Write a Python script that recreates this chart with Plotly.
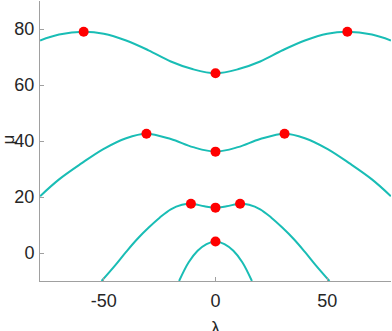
import plotly.graph_objects as go

# branch 1 (top)
lam1 = [-78.5, -70, -59, -50, -40, -30, -20, -10, 0, 10, 20, 30, 40, 50, 59, 70, 78.5]
mu1 = [75.9, 78.0, 79.0, 78.3, 75.9, 72.4, 68.4, 65.6, 64.2, 65.6, 68.4, 72.4, 75.9, 78.3, 79.0, 78.0, 75.9]
# branch 2
lam2 = [-78.5, -70, -60, -50, -40, -31, -20, -10, 0, 10, 20, 31, 40, 50, 60, 70, 78.5]
mu2 = [20.3, 26.3, 32.0, 37.2, 41.0, 42.6, 40.7, 37.8, 36.2, 37.8, 40.7, 42.6, 41.0, 37.2, 32.0, 26.3, 20.3]
# branch 3
lam3 = [-51, -45, -40, -35, -30, -25, -20, -15, -11, -5, 0, 5, 11, 15, 20, 25, 30, 35, 40, 45, 51]
mu3 = [-10, -4.5, 0.4, 5.0, 9.0, 12.6, 15.6, 17.2, 17.6, 16.7, 16.2, 16.7, 17.6, 17.2, 15.6, 12.6, 9.0, 5.0, 0.4, -4.5, -10]
# branch 4
lam4 = [-16.3, -12, -8, -4, 0, 4, 8, 12, 16.3]
mu4 = [-10, -3.3, 0.8, 3.2, 4.1, 3.2, 0.8, -3.3, -10]

# marked points
dot_lam = [-59, 59, 0, -30.9, 30.9, 0, -11, 11, 0, 0]
dot_mu = [79.0, 79.0, 64.2, 42.6, 42.6, 36.2, 17.6, 17.6, 16.2, 4.1]

teal = "#19BDB5"
txt = dict(family="Liberation Sans", size=18, color="#262626")

fig = go.Figure()
for lx, ly in [(lam1, mu1), (lam2, mu2), (lam3, mu3), (lam4, mu4)]:
    fig.add_trace(go.Scatter(x=lx, y=ly, mode="lines", line=dict(color=teal, width=2, shape="spline"),
                             showlegend=False, hoverinfo="skip"))
fig.add_trace(go.Scatter(x=dot_lam, y=dot_mu, mode="markers", marker=dict(color="#FF0000", size=10),
                         showlegend=False, cliponaxis=False))

axis_style = dict(showline=True, linecolor="#A0A0A0", linewidth=1, ticks="inside", ticklen=4,
                  tickcolor="#A0A0A0", showgrid=False, zeroline=False, mirror=False,
                  automargin=False, tickfont=txt)
fig.update_xaxes(range=[-78.54, 78.54], tickvals=[-50, 0, 50], ticktext=["-50", "0", "50"],
                 ticklabelstandoff=3, **axis_style)
fig.update_yaxes(range=[-10, 90], tickvals=[0, 20, 40, 60, 80], ticklabelstandoff=1, **axis_style)

# axis titles placed as annotations
fig.add_annotation(text="λ", x=0, xref="x", y=0, yref="paper", yanchor="top", yshift=-35,
                   showarrow=False, font=txt)
fig.add_annotation(text="μ", x=0, xref="paper", xanchor="center", xshift=-31, y=40.5, yref="y",
                   textangle=-90, showarrow=False, font=dict(family="Liberation Sans", size=17, color="#262626"))

fig.update_layout(width=392, height=331, margin=dict(l=40, r=1, t=1, b=50),
                  plot_bgcolor="white", paper_bgcolor="white")
# drop the default page margin so the figure sits at the window's corner
fig.write_html("out.html", config={"displayModeBar": False},
               post_script="document.body.style.margin='0';")
